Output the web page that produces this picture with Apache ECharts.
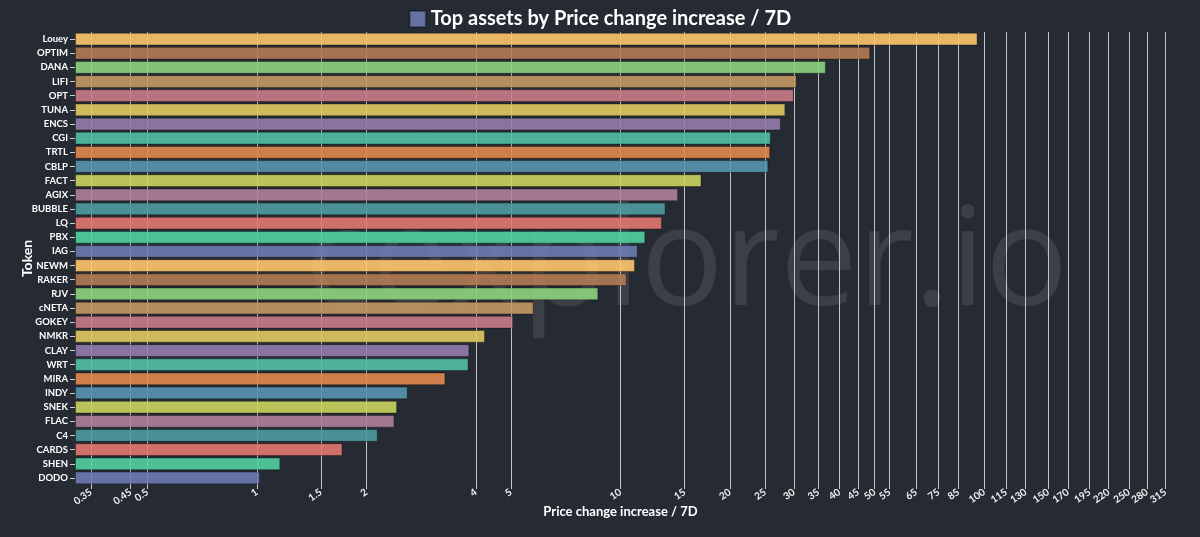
<!DOCTYPE html>
<html>
<head>
<meta charset="utf-8">
<script src="https://cdn.jsdelivr.net/npm/echarts@6/dist/echarts.min.js"></script>
<style>
  html, body { margin: 0; padding: 0; background: #262a33; }
  #app { width: 1200px; height: 537px; }
</style>
</head>
<body>
<div id="app"></div>
<script>
// tokens, bottom to top (first one sits at the bottom of the category axis)
const tokens = ["DODO", "SHEN", "CARDS", "C4", "FLAC", "SNEK", "INDY", "MIRA", "WRT", "CLAY", "NMKR",
  "GOKEY", "cNETA", "RJV", "RAKER", "NEWM", "IAG", "PBX", "LQ", "BUBBLE", "AGIX", "FACT",
  "CBLP", "TRTL", "CGI", "ENCS", "TUNA", "OPT", "LIFI", "DANA", "OPTIM", "Louey"];
const priceChange = [1.02, 1.16, 1.72, 2.15, 2.39, 2.43, 2.6, 3.3, 3.82, 3.84, 4.24,
  5.07, 5.77, 8.69, 10.4, 10.96, 11.15, 11.7, 13.0, 13.3, 14.4, 16.7,
  25.5, 25.8, 25.9, 27.6, 28.4, 29.96, 30.5, 36.7, 48.6, 95.9];
const tickValues = [0.35, 0.45, 0.5, 1, 1.5, 2, 4, 5, 10, 15, 20, 25, 30, 35, 40, 45, 50, 55,
  65, 75, 85, 100, 115, 130, 150, 170, 195, 220, 250, 280, 315];
const palette = ["#6d7bb0", "#52d0a0", "#e27870", "#4e9c9f", "#b07f9b", "#cbd45e", "#5895b0", "#e2884e",
  "#52bfa6", "#937cab", "#e1c962", "#c97b86", "#c49962", "#8dd47e", "#b47a52", "#ffc56d"];

const seriesName = "Top assets by Price change increase / 7D";
const axisMin = Math.pow(10, -0.5);
const axisMax = Math.pow(10, 2.5);
const myChart = echarts.init(document.getElementById("app"));

myChart.setOption({
  backgroundColor: "#262a33",
  color: palette,
  animation: false,
  textStyle: { fontFamily: "Lato, 'Noto Sans', sans-serif" },
  legend: {
    top: 4,
    left: "center",
    icon: "rect",
    itemWidth: 16,
    itemHeight: 16,
    textStyle: { color: "#fff", fontSize: 20, fontWeight: "bold" },
    data: [seriesName]
  },
  // faint watermark behind the bars
  graphic: [
    {
      type: "text",
      z: -10,
      right: 132,
      top: 197,
      style: {
        text: "cexplorer.io",
        fill: "rgba(255,255,255,0.1)",
        fontFamily: "Open Sans",
        fontSize: 138
      }
    }
  ],
  grid: { left: 75, right: 34, top: 32, bottom: 52 },
  xAxis: {
    type: "log",
    logBase: 10,
    min: axisMin,
    max: axisMax,
    startValue: axisMin,
    name: "Price change increase / 7D",
    nameLocation: "middle",
    nameGap: 20,
    nameMoveOverlap: false,
    nameTextStyle: { color: "#fff", fontSize: 13, fontWeight: "bold" },
    axisLine: { show: false },
    axisTick: { show: true, customValues: tickValues, length: 4, lineStyle: { color: "#ccc" } },
    axisLabel: {
      customValues: tickValues,
      rotate: 35,
      color: "#eee",
      fontSize: 10,
      fontWeight: "bold",
      margin: 6,
      formatter: (v) => String(+v.toFixed(2))
    },
    splitLine: { show: true, lineStyle: { color: "#c4c4c4", width: 1 } }
  },
  yAxis: {
    type: "category",
    data: tokens,
    name: "Token",
    nameLocation: "middle",
    nameGap: 41,
    nameMoveOverlap: false,
    nameTextStyle: { color: "#fff", fontSize: 14, fontWeight: "bold" },
    axisLine: { show: false },
    axisTick: { show: true, alignWithLabel: true, length: 5, lineStyle: { color: "#ccc" } },
    axisLabel: { color: "#fff", fontSize: 9.5, fontWeight: "bold", margin: 7, interval: 0 },
    splitLine: { show: false }
  },
  series: [
    {
      name: seriesName,
      type: "bar",
      colorBy: "data",
      barCategoryGap: "10%",
      data: priceChange,
      itemStyle: { opacity: 0.9, borderColor: "rgba(0,0,0,0.35)", borderWidth: 1 }
    }
  ]
});
</script>
</body>
</html>
